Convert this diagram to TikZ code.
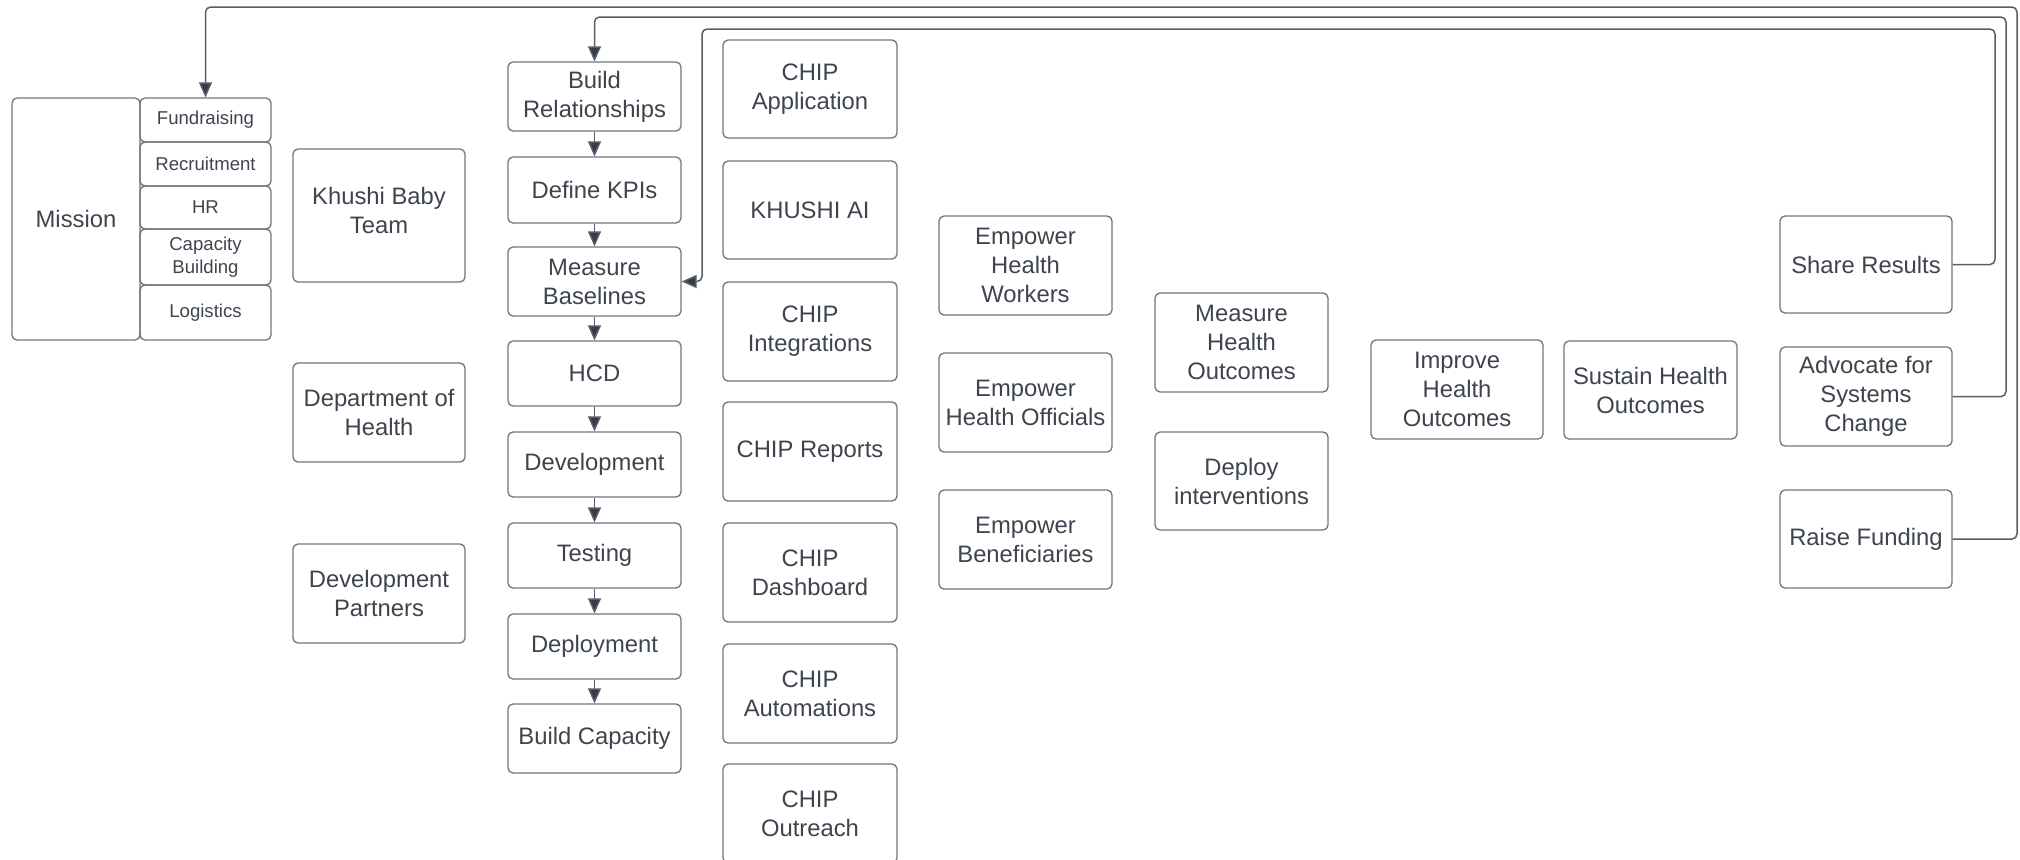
\documentclass[tikz,border=0pt]{standalone}
\usepackage{fontspec}
\setmainfont{Liberation Sans}
\usetikzlibrary{arrows.meta}
\definecolor{boxline}{RGB}{112,117,124}
\definecolor{txt}{RGB}{62,68,78}
\definecolor{connc}{RGB}{88,93,102}
\definecolor{tipc}{RGB}{55,61,71}
\begin{document}
\begin{tikzpicture}[x=0.5pt,y=-0.5pt,
  box/.style={draw=boxline, line width=0.65pt, rounded corners=2.5pt, inner sep=0pt,
    align=center, text=txt, font=\fontsize{11.9}{14.5}\selectfont},
  small/.style={box, font=\fontsize{9.3}{11.5}\selectfont},
  sz/.style 2 args={minimum width=#1*0.5pt, minimum height=#2*0.5pt},
  conn/.style={draw=connc, line width=0.75pt, rounded corners=2.5pt},
  arr/.style={conn, -{Triangle[length=7.5pt,width=6.5pt,fill=tipc]}}]
\useasboundingbox (0,0) rectangle (2020,859);
% left block
\node[box, sz={128}{242}] (mission) at (76,219) {Mission};
\node[small, sz={131}{44}] (fund) at (205.5,120) {Fundraising};
\node[small, sz={131}{44}] (recr) at (205.5,164) {Recruitment};
\node[small, sz={131}{43}] (hr) at (205.5,207.5) {HR};
\node[small, sz={131}{56}] (capb) at (205.5,257) {Capacity\\Building};
\node[small, sz={131}{55}] (logi) at (205.5,312.5) {Logistics};
% stakeholders
\node[box, sz={172}{133}] (kbt) at (379,215.5) {Khushi Baby\\Team\\[-9pt]};
\node[box, sz={172}{99}] (doh) at (379,412.5) {Department of\\Health};
\node[box, sz={172}{99}] (dp) at (379,593.5) {Development\\Partners};
% column A
\node[box, sz={173}{69}] (build) at (594.5,96.5) {Build\\Relationships};
\node[box, sz={173}{66}] (kpi) at (594.5,190) {Define KPIs};
\node[box, sz={173}{69}] (meas) at (594.5,281.5) {Measure\\Baselines};
\node[box, sz={173}{65}] (hcd) at (594.5,373.5) {HCD};
\node[box, sz={173}{65}] (dev) at (594.5,464.5) {Development};
\node[box, sz={173}{65}] (test) at (594.5,555.5) {Testing};
\node[box, sz={173}{65}] (depl) at (594.5,646.5) {Deployment};
\node[box, sz={173}{69}] (bcap) at (594.5,738.5) {Build Capacity};
% column B
\node[box, sz={174}{98}] (capp) at (810,89) {CHIP\\Application};
\node[box, sz={174}{98}] (kai) at (810,210) {KHUSHI AI};
\node[box, sz={174}{99}] (cint) at (810,331.5) {CHIP\\Integrations};
\node[box, sz={174}{99}] (crep) at (810,451.5) {CHIP Reports};
\node[box, sz={174}{99}] (cdash) at (810,572.5) {CHIP\\Dashboard};
\node[box, sz={174}{99}] (cauto) at (810,693.5) {CHIP\\Automations};
\node[box, sz={174}{99}] (cout) at (810,813.5) {CHIP\\Outreach};
% column C
\node[box, sz={173}{99}] (ehw) at (1025.5,265.5) {Empower\\Health\\Workers};
\node[box, sz={173}{99}] (eho) at (1025.5,402.5) {Empower\\Health Officials};
\node[box, sz={173}{99}] (eb) at (1025.5,539.5) {Empower\\Beneficiaries};
% column D
\node[box, sz={173}{99}] (mho) at (1241.5,342.5) {Measure\\Health\\Outcomes};
\node[box, sz={173}{98}] (dint) at (1241.5,481) {Deploy\\interventions};
% outcomes
\node[box, sz={172}{99}] (iho) at (1457,389.5) {Improve\\Health\\Outcomes};
\node[box, sz={173}{98}] (sho) at (1650.5,390) {Sustain Health\\Outcomes};
% column F
\node[box, sz={172}{97}] (share) at (1866,264.5) {Share Results};
\node[box, sz={172}{99}] (adv) at (1866,396.5) {Advocate for\\Systems\\Change};
\node[box, sz={172}{98}] (raise) at (1866,539) {Raise Funding};
% connector corners
\coordinate (c1) at (2017,7);
\coordinate (c2) at (2006,17);
\coordinate (c3) at (1995,29);
\coordinate (c3b) at (702,281.5);
% feedback loops
\draw[arr] (raise.east) -| (c1) -| (fund.north);
\draw[arr] (adv.east) -| (c2) -| (build.north);
\draw[arr] (share.east) -| (c3) -| (c3b) -- (meas.east);
% column A chain
\draw[arr] (build.south) -- (kpi.north);
\draw[arr] (kpi.south) -- (meas.north);
\draw[arr] (meas.south) -- (hcd.north);
\draw[arr] (hcd.south) -- (dev.north);
\draw[arr] (dev.south) -- (test.north);
\draw[arr] (test.south) -- (depl.north);
\draw[arr] (depl.south) -- (bcap.north);
\end{tikzpicture}
\end{document}
